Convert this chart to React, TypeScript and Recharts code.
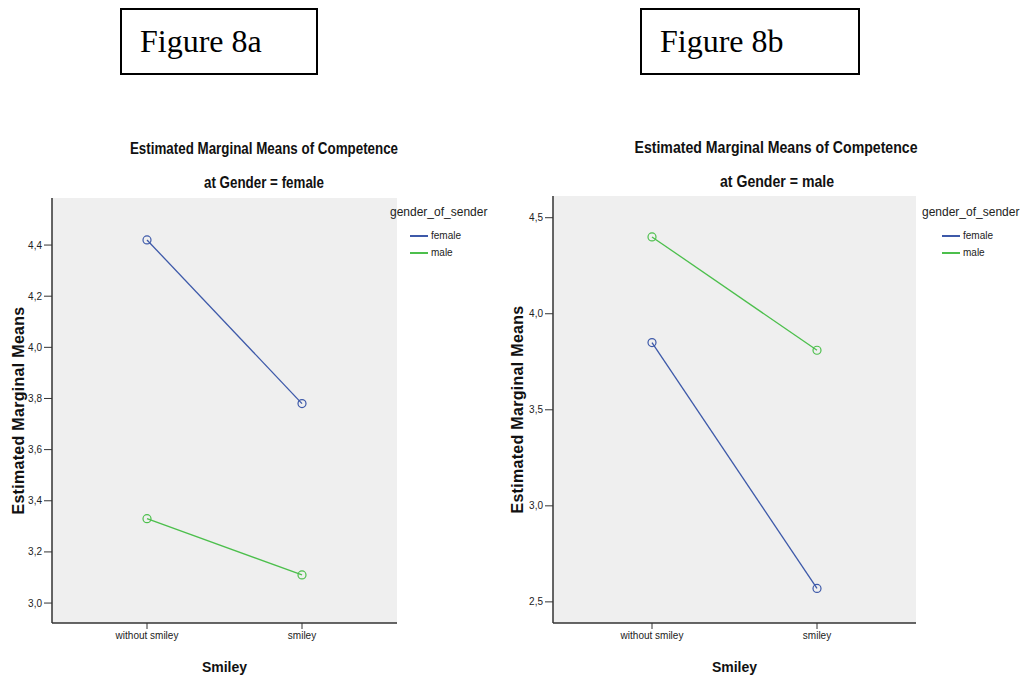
import { LineChart, Line, XAxis, YAxis, CartesianGrid, Legend } from "recharts";

const categories = ["without smiley", "smiley"];
const femaleA = [4.42, 3.78];
const maleA = [3.33, 3.11];
const femaleB = [3.85, 2.57];
const maleB = [4.4, 3.81];
const ticksA = [3.0, 3.2, 3.4, 3.6, 3.8, 4.0, 4.2, 4.4];
const ticksB = [2.5, 3.0, 3.5, 4.0, 4.5];

const BLUE = "#3d59a9";
const GREEN = "#4cbf4c";
const SANS = "'Liberation Sans', Arial, sans-serif";

const fmt = (v: number) => v.toFixed(1).replace(".", ",");

function LegendBox() {
  return (
    <div style={{ fontFamily: SANS, color: "#222" }}>
      <div style={{ fontSize: 12, marginBottom: 8 }}>gender_of_sender</div>
      {[["female", BLUE], ["male", GREEN]].map(([name, c]) => (
        <div key={name} style={{ display: "flex", alignItems: "center", fontSize: 10, height: 17, paddingLeft: 20 }}>
          <span style={{ display: "inline-block", width: 18, height: 0, borderTop: `2px solid ${c}`, marginRight: 3 }} />
          {name}
        </div>
      ))}
    </div>
  );
}

interface PanelProps {
  female: number[];
  male: number[];
  ticks: number[];
  domain: [number, number];
  left: number;
  width: number;
  axisWidth: number;
  marginTop: number;
  marginRight: number;
  pad: number;
  labelDx: number;
  legendLeft: number;
}

function Panel({ female, male, ticks, domain, left, width, axisWidth, marginTop, marginRight, pad, labelDx, legendLeft }: PanelProps) {
  const data = categories.map((c, i) => ({ smiley: c, female: female[i], male: male[i] }));
  return (
    <div style={{ position: "absolute", left, top: 130 }}>
      <LineChart width={width} height={547} data={data} margin={{ top: marginTop, right: marginRight, bottom: 0, left: 0 }}>
        <CartesianGrid fill="#efefef" horizontal={false} vertical={false} />
        <XAxis
          dataKey="smiley"
          padding={{ left: pad, right: pad }}
          height={54}
          tickSize={6}
          tickMargin={3}
          axisLine={{ stroke: "#333", strokeWidth: 1.5 }}
          tickLine={{ stroke: "#333" }}
          tick={{ fontSize: 10, fill: "#222", fontFamily: SANS }}
          label={{ value: "Smiley", position: "insideBottom", offset: 5, fontSize: 14, fontWeight: "bold", fill: "#111", fontFamily: SANS }}
        />
        <XAxis xAxisId="top" orientation="top" dataKey="smiley" height={0} tick={false} tickLine={false} axisLine={{ stroke: "#555" }} />
        <YAxis
          domain={domain}
          ticks={ticks}
          allowDataOverflow
          width={axisWidth}
          tickSize={8}
          tickMargin={2}
          tickFormatter={fmt}
          axisLine={{ stroke: "#333", strokeWidth: 1.5 }}
          tickLine={{ stroke: "#333" }}
          tick={{ fontSize: 10, fill: "#222", fontFamily: SANS }}
          label={{ value: "Estimated Marginal Means", angle: -90, position: "center", dx: labelDx, fontSize: 16, letterSpacing: 0.3, fontWeight: "bold", fill: "#111", fontFamily: SANS }}
        />
        <YAxis yAxisId="r" orientation="right" domain={[0, 1]} width={0} tick={false} tickLine={false} axisLine={{ stroke: "#555" }} />
        <Legend
          layout="horizontal"
          verticalAlign="middle"
          align="center"
          content={<LegendBox />}
          wrapperStyle={{ left: legendLeft, top: 75, width: 110, height: 60 }}
        />
        <Line dataKey="female" stroke={BLUE} strokeWidth={1.3} dot={{ r: 4, stroke: BLUE, fill: "none", strokeWidth: 1.2 }} isAnimationActive={false} />
        <Line dataKey="male" stroke={GREEN} strokeWidth={1.3} dot={{ r: 4, stroke: GREEN, fill: "none", strokeWidth: 1.2 }} isAnimationActive={false} />
      </LineChart>
    </div>
  );
}

function FigBox({ left, width, text }: { left: number; width: number; text: string }) {
  return (
    <div
      style={{
        position: "absolute", left, top: 8, width, height: 63, border: "2px solid #000",
        fontFamily: "'Liberation Serif', 'Times New Roman', serif", fontSize: 32, lineHeight: "63px", paddingLeft: 18, boxSizing: "content-box",
      }}
    >
      {text}
    </div>
  );
}

function Title({ cx, top, text, sx }: { cx: number; top: number; text: string; sx: number }) {
  return (
    <div
      style={{
        position: "absolute", left: cx - 200, width: 400, top, textAlign: "center", fontFamily: SANS, fontWeight: "bold",
        fontSize: 16.5, color: "#111", transform: `scaleX(${sx})`,
      }}
    >
      {text}
    </div>
  );
}

export default function App() {
  return (
    <div style={{ position: "absolute", left: 0, top: 0, width: 1022, height: 677, background: "#fff" }}>
      <FigBox left={120} width={176} text="Figure 8a" />
      <FigBox left={640} width={198} text="Figure 8b" />
      <Title cx={264} top={139} sx={0.81} text="Estimated Marginal Means of Competence" />
      <Title cx={264} top={173} sx={0.81} text="at Gender = female" />
      <Title cx={776} top={138} sx={0.855} text="Estimated Marginal Means of Competence" />
      <Title cx={777} top={172} sx={0.855} text="at Gender = male" />
      <Panel female={femaleA} male={maleA} ticks={ticksA} domain={[2.922, 4.584]} left={0} width={480} axisWidth={52} marginTop={68} marginRight={83} pad={95} labelDx={-8} legendLeft={390} />
      <Panel female={femaleB} male={maleB} ticks={ticksB} domain={[2.39, 4.613]} left={500} width={522} axisWidth={53} marginTop={66} marginRight={106} pad={99} labelDx={-9} legendLeft={422} />
    </div>
  );
}
